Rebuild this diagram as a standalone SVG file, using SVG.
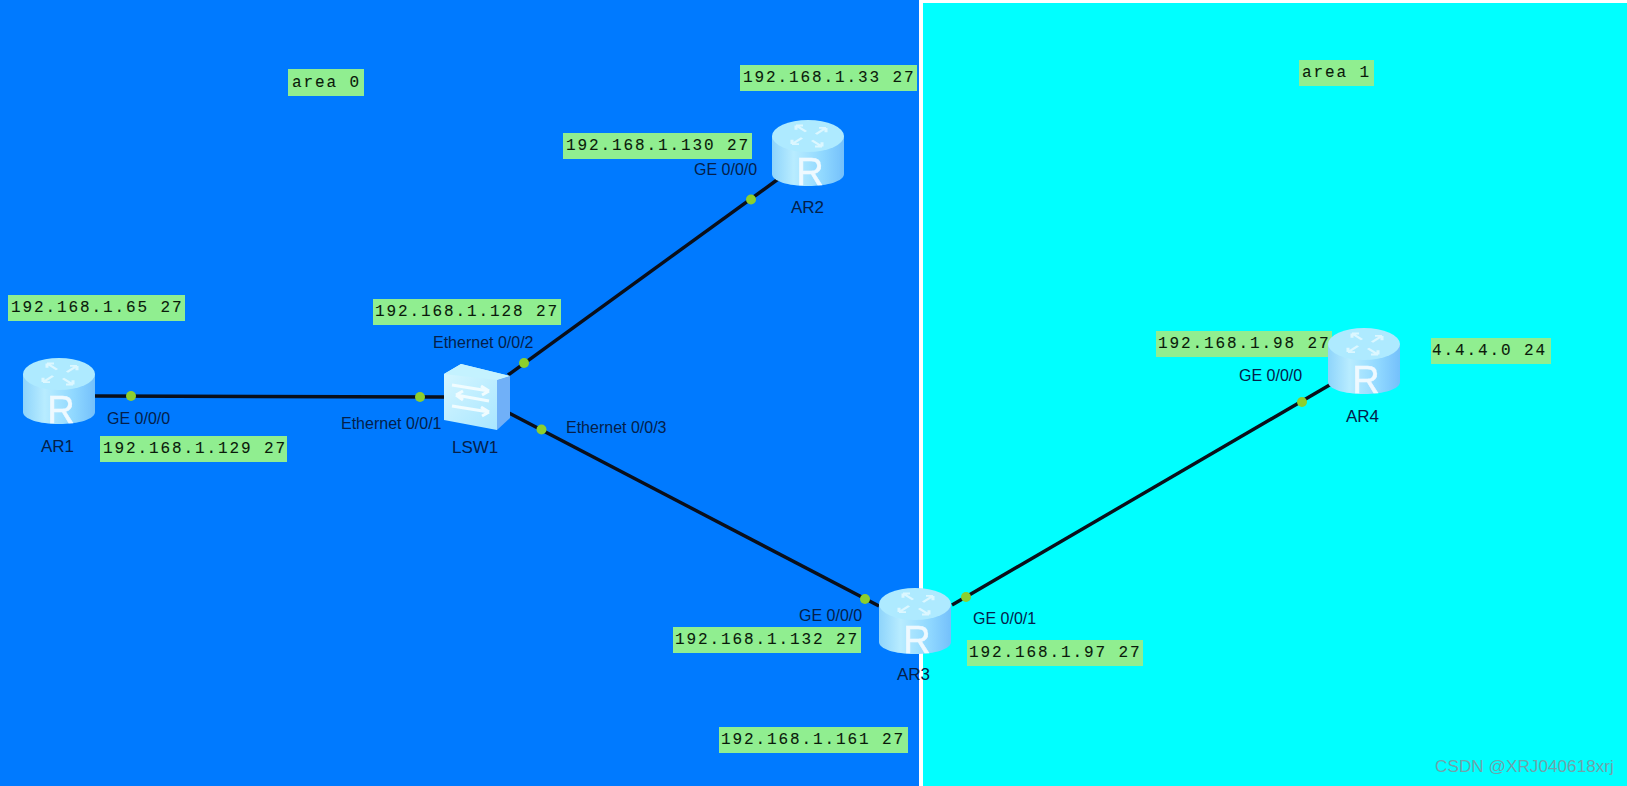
<svg xmlns="http://www.w3.org/2000/svg" width="1627" height="786" viewBox="0 0 1627 786">
<style>
.ip{fill:#90ee90}
.ipt{font:16px "Liberation Mono",monospace;letter-spacing:1.9px;fill:#0a1a0a;stroke:#0a1a0a;stroke-width:.1}
.lb{font:16px "Liberation Sans",Arial,sans-serif;fill:#04204a}
.nm{font:17px "Liberation Sans",Arial,sans-serif;fill:#04204a}
.dot{fill:#8ccf2e}
.lk{stroke:#0a0f1a;stroke-width:3.4;fill:none}
.ar{stroke:#dcf7ff;stroke-width:3;fill:none}
</style>
<defs>
<filter id="soft" x="-5%" y="-5%" width="110%" height="110%"><feGaussianBlur stdDeviation=".45"/></filter>
<linearGradient id="side" x1="0" x2="1" y1="0" y2="0"><stop offset="0" stop-color="#8ed4fb"/><stop offset=".3" stop-color="#b8ecff"/><stop offset=".7" stop-color="#90d8ff"/><stop offset="1" stop-color="#74c0fb"/></linearGradient>
<linearGradient id="sw" x1="0" x2="1" y1="0" y2="1"><stop offset="0" stop-color="#d8f7ff"/><stop offset="1" stop-color="#a4e4ff"/></linearGradient>
<path id="arrow" class="ar" d="M-3 -7L-13 -17M-13 -17L-13 -10M-13 -17L-6 -17"/>
<g id="router" filter="url(#soft)">
<path d="M0 16V54C0 61 16 66 36 66S72 61 72 54V16Z" fill="url(#side)"/>
<ellipse cx="36" cy="16" rx="36" ry="16" fill="#aeeaff"/>
<g transform="translate(37 16) scale(1 .62)">
<use href="#arrow"/>
<use href="#arrow" transform="rotate(90)"/>
<use href="#arrow" transform="rotate(180)"/>
<use href="#arrow" transform="rotate(270)"/>
</g>
<text x="38" y="65" text-anchor="middle" style="font:38px 'Liberation Sans',sans-serif;fill:#eef9ff;stroke:#eef9ff;stroke-width:.5">R</text>
</g>
</defs>
<rect width="1627" height="786" fill="#fff"/>
<rect id="area0" width="919" height="786" fill="#007aff"/>
<rect id="area1" x="923" y="3" width="704" height="783" fill="#00ffff"/>
<g id="connectors" class="lk">
<path d="M94 396L445 397"/>
<path d="M508 375L781 177"/>
<path d="M509 413L879 606"/>
<path d="M952 605L1333 383"/>
</g>
<g id="ip-labels">
<g id="t-area0"><rect class="ip" x="288" y="69" width="76" height="27"/><text class="ipt" x="292" y="87">area 0</text></g>
<g id="t-area1"><rect class="ip" x="1299" y="60" width="75" height="26"/><text class="ipt" x="1302" y="77">area 1</text></g>
<g id="t-33"><rect class="ip" x="740" y="65" width="177" height="26"/><text class="ipt" x="743" y="82">192.168.1.33 27</text></g>
<g id="t-130"><rect class="ip" x="563" y="133" width="189" height="26"/><text class="ipt" x="566" y="150">192.168.1.130 27</text></g>
<g id="t-65"><rect class="ip" x="8" y="295" width="177" height="26"/><text class="ipt" x="11" y="312">192.168.1.65 27</text></g>
<g id="t-128"><rect class="ip" x="373" y="299" width="188" height="26"/><text class="ipt" x="375" y="316">192.168.1.128 27</text></g>
<g id="t-129"><rect class="ip" x="100" y="436" width="187" height="26"/><text class="ipt" x="103" y="453">192.168.1.129 27</text></g>
<g id="t-98"><rect class="ip" x="1156" y="331" width="176" height="26"/><text class="ipt" x="1158" y="348">192.168.1.98 27</text></g>
<g id="t-4"><rect class="ip" x="1431" y="338" width="120" height="26"/><text class="ipt" x="1432" y="355">4.4.4.0 24</text></g>
<g id="t-132"><rect class="ip" x="673" y="627" width="188" height="26"/><text class="ipt" x="675" y="644">192.168.1.132 27</text></g>
<g id="t-97"><rect class="ip" x="967" y="640" width="176" height="26"/><text class="ipt" x="969" y="657">192.168.1.97 27</text></g>
<g id="t-161"><rect class="ip" x="719" y="727" width="189" height="26"/><text class="ipt" x="721" y="744">192.168.1.161 27</text></g>
</g>
<g id="AR1"><use href="#router" x="23" y="358"/><text class="nm" x="41" y="452">AR1</text></g>
<g id="AR2"><use href="#router" x="772" y="120"/><text class="nm" x="791" y="213">AR2</text></g>
<g id="AR3"><use href="#router" x="879" y="588"/><text class="nm" x="897" y="680">AR3</text></g>
<g id="AR4"><use href="#router" x="1328" y="328"/><text class="nm" x="1346" y="422">AR4</text></g>
<g id="LSW1">
<g filter="url(#soft)">
<path d="M444 374L461 364L510 376L497 380L497 430L444 420Z" fill="url(#sw)"/>
<path d="M497 380L510 376V418L497 430Z" fill="#6fb0f8"/>
<path d="M444 374L461 364L510 376L497 380Z" fill="#c4f2ff"/>
<path d="M452 385L489 391M489 391L481 386M489 391L482 395M489 401L456 395M456 395L463 391M456 395L463 400M452 406L489 412M489 412L481 407M489 412L482 416" stroke="#f0fcff" stroke-width="3" fill="none"/>
</g>
<text class="nm" x="452" y="453">LSW1</text>
</g>
<g id="ports">
<circle class="dot" cx="131" cy="396" r="5"/>
<circle class="dot" cx="420" cy="397" r="5"/>
<circle class="dot" cx="524" cy="363" r="5"/>
<circle class="dot" cx="541.500" cy="429.500" r="5"/>
<circle class="dot" cx="751" cy="199.500" r="5"/>
<circle class="dot" cx="865" cy="599" r="5"/>
<circle class="dot" cx="966" cy="597" r="5"/>
<circle class="dot" cx="1302" cy="402" r="5"/>
<text class="lb" x="107" y="424">GE 0/0/0</text>
<text class="lb" x="341" y="429">Ethernet 0/0/1</text>
<text class="lb" x="433" y="348">Ethernet 0/0/2</text>
<text class="lb" x="566" y="433">Ethernet 0/0/3</text>
<text class="lb" x="694" y="175">GE 0/0/0</text>
<text class="lb" x="799" y="621">GE 0/0/0</text>
<text class="lb" x="973" y="624">GE 0/0/1</text>
<text class="lb" x="1239" y="381">GE 0/0/0</text>
</g>
<text id="watermark" x="1435" y="772" style="font:17.2px 'Liberation Sans',sans-serif;fill:#6fa3ab">CSDN @XRJ040618xrj</text>
</svg>
